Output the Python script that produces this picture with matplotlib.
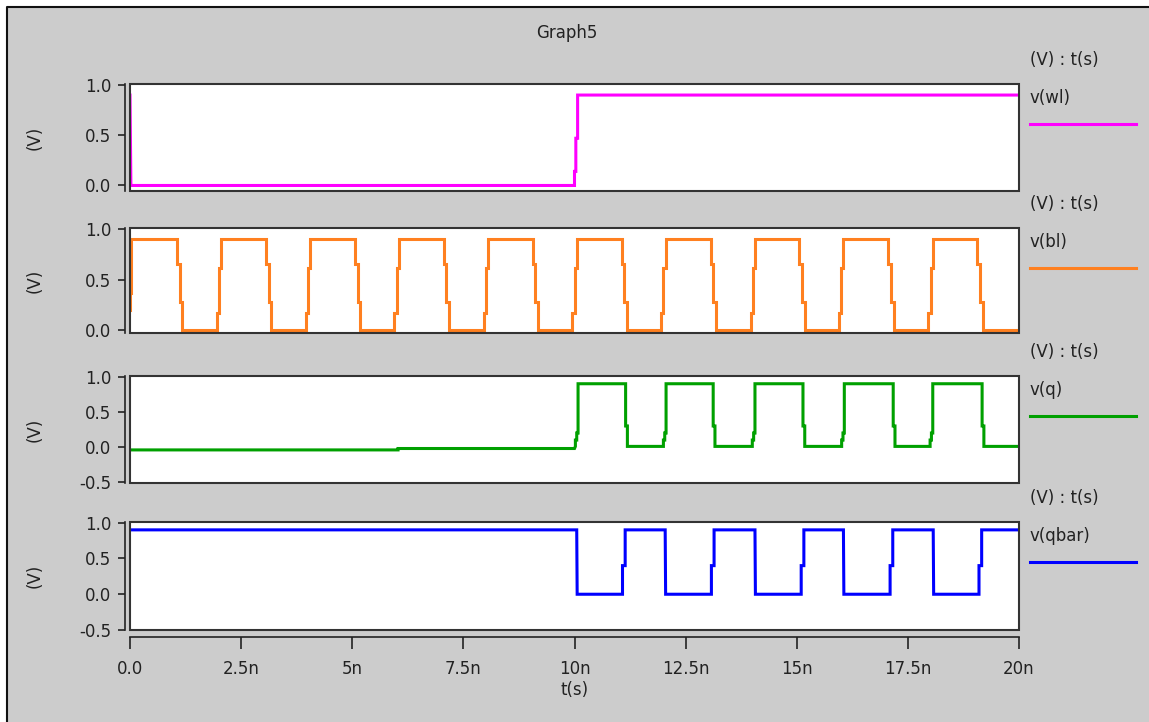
import matplotlib
matplotlib.use('Agg')
import matplotlib.pyplot as plt
from matplotlib.patches import Rectangle
from matplotlib.lines import Line2D

W, H = 1149, 722

# --- data, times in ns ---
wl_t = [0.0, 0.02, 10.0, 10.0, 10.03, 10.03, 10.07, 10.07, 20.0]
wl_v = [0.9, 0.0, 0.0, 0.14, 0.14, 0.47, 0.47, 0.9, 0.9]

bl_start_t = [0.0, 0.0, 0.03, 0.03]
bl_start_v = [0.2, 0.37, 0.37, 0.9]
bl_rise = [1.95, 3.95, 5.95, 7.96, 9.95, 11.95, 13.96, 15.95, 17.96]
bl_fall = [1.06, 3.06, 5.06, 7.06, 9.06, 11.06, 13.06, 15.06, 17.06, 19.06]
bl_rise_dt = [0.0, 0.0, 0.05, 0.05, 0.1, 0.1]
bl_rise_v = [0.0, 0.17, 0.17, 0.62, 0.62, 0.9]
bl_fall_dt = [0.0, 0.0, 0.06, 0.06, 0.12, 0.12]
bl_fall_v = [0.9, 0.66, 0.66, 0.28, 0.28, 0.0]

q_start_t = [0.0, 6.03, 6.03, 10.0]
q_start_v = [-0.04, -0.04, -0.02, -0.02]
q_rise = [10.02, 12.0, 14.0, 16.01, 18.0]
q_fall = [11.15, 13.12, 15.14, 17.17, 19.17]
q_rise_dt = [0.0, 0.0, 0.03, 0.03, 0.06, 0.06]
q_rise_v = [0.01, 0.1, 0.1, 0.2, 0.2, 0.9]
q_fall_dt = [0.0, 0.0, 0.04, 0.04]
q_fall_v = [0.9, 0.3, 0.3, 0.01]

qbar_start_t = [0.0]
qbar_start_v = [0.9]
qbar_fall = [10.05, 12.04, 14.06, 16.05, 18.07]
qbar_rise = [11.08, 13.08, 15.1, 17.1, 19.1]
qbar_fall_dt = [0.0, 0.01]
qbar_fall_v = [0.9, 0.0]
qbar_rise_dt = [0.0, 0.0, 0.06, 0.06]
qbar_rise_v = [0.0, 0.4, 0.4, 0.9]

xticks = [0, 2.5, 5, 7.5, 10, 12.5, 15, 17.5, 20]
xlabels = ['0.0', '2.5n', '5n', '7.5n', '10n', '12.5n', '15n', '17.5n', '20n']


def wave(t_start, v_start, events, t_end=20.0):
    t, v = list(t_start), list(v_start)
    for t0, dts, lvs in sorted(events, key=lambda e: e[0]):
        t += [t0 + d for d in dts]
        v += list(lvs)
    t.append(t_end)
    v.append(v[-1])
    return t, v


bl_t, bl_v = wave(bl_start_t, bl_start_v,
                  [(t, bl_rise_dt, bl_rise_v) for t in bl_rise] +
                  [(t, bl_fall_dt, bl_fall_v) for t in bl_fall])
q_t, q_v = wave(q_start_t, q_start_v,
                [(t, q_rise_dt, q_rise_v) for t in q_rise] +
                [(t, q_fall_dt, q_fall_v) for t in q_fall])
qbar_t, qbar_v = wave(qbar_start_t, qbar_start_v,
                      [(t, qbar_rise_dt, qbar_rise_v) for t in qbar_rise] +
                      [(t, qbar_fall_dt, qbar_fall_v) for t in qbar_fall])

signals = [
    ('v(wl)', wl_t, wl_v, '#ff00ff', (-0.055, 1.01), [0, 0.5, 1.0]),
    ('v(bl)', bl_t, bl_v, '#ff8020', (-0.025, 1.01), [0, 0.5, 1.0]),
    ('v(q)', q_t, q_v, '#00a000', (-0.51, 1.01), [-0.5, 0, 0.5, 1.0]),
    ('v(qbar)', qbar_t, qbar_v, '#0000ff', (-0.5, 1.01), [-0.5, 0, 0.5, 1.0]),
]
# panel box top / bottom in pixels
boxes = [(84, 191), (228, 333), (376, 483), (522, 630)]

fig = plt.figure(figsize=(W / 100, H / 100), dpi=100)
fig.patch.set_facecolor('white')
# window-like frame: gray panel, dark line on top and left only
fig.patches.append(Rectangle((7 / W, 0), 1, 1 - 7 / H, transform=fig.transFigure,
                             facecolor='#cccccc', edgecolor='none', zorder=-10))
fig.lines.append(Line2D([7 / W, 7 / W, 1], [0, 1 - 7 / H, 1 - 7 / H],
                        transform=fig.transFigure, color='#111111', lw=1.5))

txt = '#222222'
for i, ((name, t, v, col, ylim, yt), (top, bot)) in enumerate(zip(signals, boxes)):
    ax = fig.add_axes([130 / W, 1 - bot / H, 889 / W, (bot - top) / H])
    ax.plot(t, v, color=col, lw=2.2, solid_joinstyle='miter')
    ax.set_xlim(0, 20)
    ax.set_ylim(*ylim)
    ax.set_yticks(yt)
    ax.set_yticklabels(['%.1f' % y for y in yt])
    for s in ax.spines.values():
        s.set_visible(False)
    ax.add_patch(Rectangle((0, 0), 1, 1, transform=ax.transAxes, fill=False,
                           edgecolor='#333333', lw=1.5, clip_on=False, zorder=5))
    ax.spines['left'].set_visible(True)
    ax.spines['left'].set_position(('outward', 3.6))
    ax.spines['left'].set_color('#222222')
    ax.spines['left'].set_linewidth(1.2)
    ax.tick_params(axis='y', direction='out', length=5, width=1.2, pad=5,
                   labelsize=12, colors=txt)
    if i == 3:
        ax.spines['bottom'].set_visible(True)
        ax.spines['bottom'].set_position(('outward', 5))
        ax.spines['bottom'].set_color('#222222')
        ax.spines['bottom'].set_linewidth(1.2)
        ax.set_xticks(xticks)
        ax.set_xticklabels(xlabels)
        ax.tick_params(axis='x', direction='out', length=8.5, width=1.2, pad=8,
                       labelsize=12, colors=txt)
    else:
        ax.set_xticks([])

    # y label and right-hand legend
    fig.text(35 / W, 1 - (top + bot) / 2 / H, '(V)', rotation=90, ha='center',
             va='center', fontsize=12, color=txt)
    fig.text(1030 / W, 1 - (top - 24) / H, '(V) : t(s)', ha='left', va='center',
             fontsize=12, color=txt)
    fig.text(1030 / W, 1 - (top + 14) / H, name, ha='left', va='center',
             fontsize=12, color=txt)
    fig.lines.append(Line2D([1030 / W, 1136 / W], [1 - (top + 40) / H] * 2,
                            transform=fig.transFigure, color=col, lw=2.2))

fig.text(567 / W, 1 - 33 / H, 'Graph5', ha='center', va='center', fontsize=12, color=txt)
fig.text(575 / W, 1 - 690 / H, 't(s)', ha='center', va='center', fontsize=12, color=txt)

fig.savefig('out.png', dpi=100)
